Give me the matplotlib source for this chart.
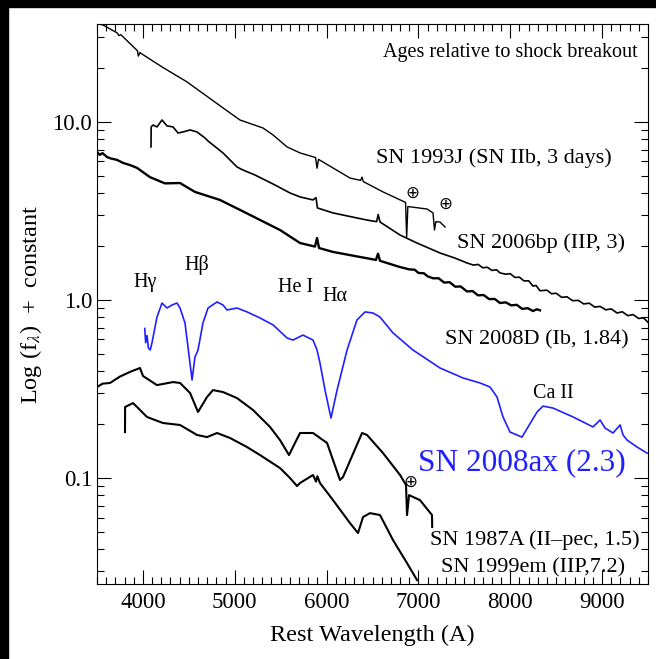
import matplotlib
matplotlib.use("Agg")
import matplotlib.pyplot as plt
from matplotlib.patches import Rectangle
from matplotlib.ticker import MultipleLocator, LogLocator, FixedLocator, NullFormatter
import numpy as np

plt.rcParams["font.family"] = ["Liberation Serif", "DejaVu Serif"]
plt.rcParams["mathtext.fontset"] = "stix"

# spectra: wavelength (A) and log10 flux (+ constant)
wl_93j = [3500, 3565, 3720, 3740, 3760, 3940, 3950, 3968, 3980, 4208, 4480, 4676, 4872, 5057,
          5308, 5417, 5569, 5711, 5880, 5896, 5912, 6255, 6370, 6386, 6400, 6615, 6860, 6872,
          6885, 6930, 7094, 7159, 7175, 7190, 7235, 7290]
lf_93j = [1.551, 1.545, 1.500, 1.485, 1.49, 1.40, 1.37, 1.39, 1.385, 1.309, 1.225, 1.152, 1.079,
          1.011, 0.966, 0.927, 0.860, 0.826, 0.80, 0.74, 0.79, 0.685, 0.672, 0.69, 0.665, 0.607,
          0.548, 0.354, 0.525, 0.522, 0.511, 0.489, 0.393, 0.44, 0.438, 0.410]

wl_06bp = [4088, 4090, 4110, 4153, 4208, 4262, 4328, 4382, 4437, 4513, 4589, 4676, 4709, 4872,
           5025, 5090, 5221, 5438, 5602, 5711, 5852, 5885, 5900, 6070, 6440, 6545, 6562, 6582,
           6800, 6985, 7235, 7400, 7529, 7600, 7650, 7700, 7750, 7800, 7850, 7889, 7950, 8000,
           8050, 8100, 8150, 8200, 8248, 8280, 8324, 8400, 8450, 8500, 8560, 8618, 8680, 8740,
           8800, 8860, 8920, 8978, 9040, 9100, 9163, 9220, 9280, 9337, 9400, 9450, 9500]
lf_06bp = [0.860, 0.972, 0.983, 0.972, 1.011, 0.978, 0.972, 0.938, 0.944, 0.955, 0.944, 0.910,
           0.893, 0.826, 0.747, 0.730, 0.702, 0.646, 0.601, 0.579, 0.562, 0.575, 0.517, 0.489,
           0.449, 0.44, 0.48, 0.438, 0.365, 0.320, 0.264, 0.235, 0.208, 0.196, 0.200, 0.181,
           0.184, 0.166, 0.170, 0.152, 0.145, 0.148, 0.127, 0.128, 0.107, 0.108, 0.078, 0.082,
           0.052, 0.055, 0.035, 0.038, 0.015, 0.018, -0.004, -0.002, -0.022, -0.018, -0.040,
           -0.036, -0.055, -0.050, -0.073, -0.066, -0.088, -0.082, -0.104, -0.100, -0.125]

wl_08d = [3500, 3530, 3560, 3609, 3650, 3718, 3783, 3859, 3936, 4077, 4240, 4404, 4567, 4839,
          5166, 5493, 5711, 5874, 5896, 5918, 6070, 6538, 6560, 6582, 6800, 6900, 6960, 7000,
          7060, 7100, 7159, 7220, 7280, 7340, 7400, 7460, 7529, 7590, 7650, 7710, 7770, 7830,
          7889, 7950, 8010, 8070, 8130, 8190, 8248, 8290, 8324]
lf_08d = [0.831, 0.815, 0.825, 0.803, 0.795, 0.787, 0.770, 0.758, 0.742, 0.690, 0.655, 0.657,
          0.607, 0.562, 0.478, 0.393, 0.320, 0.300, 0.348, 0.292, 0.270, 0.225, 0.260, 0.220,
          0.185, 0.172, 0.170, 0.152, 0.150, 0.133, 0.122, 0.122, 0.098, 0.100, 0.075, 0.076,
          0.048, 0.050, 0.026, 0.028, 0.005, 0.006, -0.017, -0.013, -0.030, -0.027, -0.050,
          -0.046, -0.062, -0.052, -0.058]

wl_08ax = [4020, 4030, 4045, 4060, 4080, 4099, 4153, 4208, 4262, 4317, 4371, 4404, 4458, 4491,
           4535, 4567, 4600, 4654, 4709, 4807, 4872, 4916, 5025, 5134, 5275, 5417, 5569, 5634,
           5743, 5852, 5896, 5928, 5983, 6048, 6114, 6223, 6331, 6419, 6506, 6582, 6723, 6941,
           7235, 7486, 7671, 7780, 7856, 7921, 7998, 8128, 8194, 8292, 8357, 8466, 8684, 8901,
           8978, 9032, 9119, 9196, 9228, 9272, 9381, 9490]
lf_08ax = [-0.16, -0.24, -0.20, -0.27, -0.28, -0.24, -0.096, -0.017, -0.045, -0.028, -0.017,
           -0.045, -0.129, -0.264, -0.449, -0.320, -0.281, -0.129, -0.045, -0.011, -0.028,
           -0.056, -0.045, -0.067, -0.101, -0.140, -0.213, -0.225, -0.197, -0.225, -0.281,
           -0.354, -0.506, -0.663, -0.506, -0.281, -0.112, -0.067, -0.073, -0.096, -0.185,
           -0.281, -0.382, -0.438, -0.466, -0.489, -0.545, -0.657, -0.742, -0.770, -0.713,
           -0.629, -0.596, -0.607, -0.657, -0.713, -0.674, -0.719, -0.747, -0.702, -0.758,
           -0.787, -0.826, -0.860]

wl_87a = [3500, 3560, 3642, 3750, 3859, 3968, 4001, 4153, 4328, 4404, 4513, 4600, 4698, 4763,
          4872, 5025, 5199, 5384, 5493, 5591, 5656, 5711, 5852, 6005, 6146, 6179, 6386, 6440,
          6615, 6800, 6865, 6876, 6898, 7017, 7148, 7150]
lf_87a = [-0.489, -0.470, -0.466, -0.430, -0.404, -0.382, -0.427, -0.478, -0.461, -0.466,
          -0.522, -0.629, -0.545, -0.506, -0.517, -0.551, -0.618, -0.713, -0.787, -0.871,
          -0.803, -0.747, -0.747, -0.803, -1.011, -0.994, -0.747, -0.758, -0.860, -0.983,
          -1.039, -1.208, -1.096, -1.124, -1.208, -1.275]

wl_99em = [3805, 3806, 3892, 3936, 4044, 4219, 4404, 4589, 4698, 4807, 4948, 5134, 5275, 5493,
           5602, 5678, 5711, 5852, 5885, 5900, 5928, 6070, 6255, 6342, 6397, 6473, 6582, 6723,
           6876, 6985]
lf_99em = [-0.742, -0.601, -0.579, -0.601, -0.657, -0.691, -0.702, -0.758, -0.770, -0.747,
           -0.775, -0.826, -0.871, -0.944, -1.00, -1.045, -1.028, -0.983, -1.02, -0.99, -1.028,
           -1.124, -1.253, -1.309, -1.219, -1.197, -1.208, -1.348, -1.478, -1.573]

blue = "#2020ff"

fig = plt.figure(figsize=(6.56, 6.59), dpi=100)
ax = fig.add_axes([97 / 656, 75 / 659, 551 / 656, 560 / 659])

ax.plot(wl_93j, 10 ** np.array(lf_93j), color="k", lw=1.0)
ax.plot(wl_06bp, 10 ** np.array(lf_06bp), color="k", lw=1.2)
ax.plot(wl_08d, 10 ** np.array(lf_08d), color="k", lw=1.7)
ax.plot(wl_08ax, 10 ** np.array(lf_08ax), color=blue, lw=1.2)
ax.plot(wl_87a, 10 ** np.array(lf_87a), color="k", lw=1.5)
ax.plot(wl_99em, 10 ** np.array(lf_99em), color="k", lw=1.5)

ax.set_yscale("log")
ax.set_xlim(3500, 9500)
ax.set_ylim(0.0254, 35.5)
ax.yaxis.set_major_locator(FixedLocator([0.1, 1.0, 10.0]))
ax.set_yticklabels(["0.1", "1.0", "10.0"])
ax.yaxis.set_minor_locator(LogLocator(base=10, subs=np.arange(2, 10)))
ax.yaxis.set_minor_formatter(NullFormatter())
ax.xaxis.set_major_locator(MultipleLocator(1000))
ax.xaxis.set_minor_locator(MultipleLocator(100))
ax.tick_params(which="both", direction="in", top=True, right=True, labelsize=16.5)
ax.tick_params(which="major", length=10, width=0.8)
ax.tick_params(which="minor", length=5, width=0.8)
ax.tick_params(axis="x", pad=6)
for s in ax.spines.values():
    s.set_linewidth(0.8)

ax.set_xlabel("Rest Wavelength (A)", fontsize=17.5, labelpad=8)
ax.set_ylabel("Log (f$_\\lambda$)  +  constant", fontsize=17.5, labelpad=6)

tr = ax.transAxes
ax.text(0.982, 0.950, "Ages relative to shock breakout", transform=tr, ha="right", va="center", fontsize=14.5)
ax.text(0.935, 0.761, "SN 1993J (SN IIb, 3 days)", transform=tr, ha="right", va="center", fontsize=16)
ax.text(0.958, 0.609, "SN 2006bp (IIP, 3)", transform=tr, ha="right", va="center", fontsize=16)
ax.text(0.964, 0.436, "SN 2008D (Ib, 1.84)", transform=tr, ha="right", va="center", fontsize=16)
ax.text(0.960, 0.216, "SN 2008ax (2.3)", transform=tr, ha="right", va="center", fontsize=22.5, color=blue)
ax.text(0.985, 0.079, "SN 1987A (II\u2013pec, 1.5)", transform=tr, ha="right", va="center", fontsize=16)
ax.text(0.958, 0.029, "SN 1999em (IIP,7.2)", transform=tr, ha="right", va="center", fontsize=16)

ax.text(0.087, 0.539, "H\u03b3", transform=tr, ha="center", va="center", fontsize=14.5)
ax.text(0.181, 0.570, "H\u03b2", transform=tr, ha="center", va="center", fontsize=14.5)
ax.text(0.361, 0.529, "He I", transform=tr, ha="center", va="center", fontsize=14.5)
ax.text(0.432, 0.514, "H\u03b1", transform=tr, ha="center", va="center", fontsize=14.5)
ax.text(0.828, 0.341, "Ca II", transform=tr, ha="center", va="center", fontsize=14.5)

for xf, yf in [(0.572, 0.698), (0.632, 0.679), (0.568, 0.182)]:
    ax.text(xf, yf, "\u2295", transform=tr, ha="center", va="center", fontsize=12,
            family="DejaVu Sans")

# black frame strips at the top and left of the original screenshot
fig.add_artist(Rectangle((0, 0), 8 / 656, 1, transform=fig.transFigure, color="k", zorder=10))
fig.add_artist(Rectangle((0, 1 - 7 / 659), 1, 7 / 659, transform=fig.transFigure, color="k", zorder=10))

fig.savefig("out.png", dpi=100)
